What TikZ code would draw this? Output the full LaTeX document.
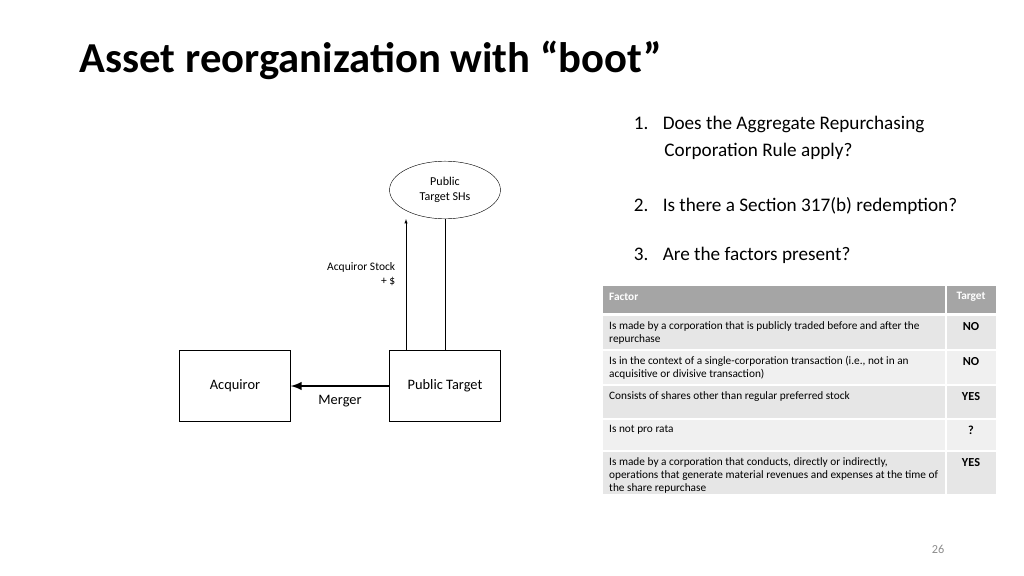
\documentclass[tikz,border=0pt]{standalone}
\usepackage{fontspec}
\setmainfont{Carlito}
\usetikzlibrary{shapes.geometric,positioning}
\definecolor{hdrgray}{HTML}{A5A5A5}
\definecolor{rowa}{HTML}{E6E6E6}
\definecolor{rowb}{HTML}{F0F0F0}
\definecolor{numgray}{HTML}{8C8C8C}
\tikzset{
  box/.style={draw,minimum width=104pt,minimum height=66.5pt,font=\fontsize{13.5}{16}\selectfont},
  cell/.style={anchor=north west,inner sep=0pt,outer sep=0pt},
  ctext/.style={anchor=north west,align=left,inner sep=0pt,font=\fontsize{10.6}{12.5}\selectfont},
  ans/.style={anchor=north,inner sep=0pt,font=\fontsize{11.5}{13}\selectfont\bfseries},
}
\begin{document}
\begin{tikzpicture}[x=0.9375pt,y=-0.9375pt]
    \useasboundingbox (0,0) rectangle (1024,576);
    \node[anchor=west,font=\fontsize{40}{46}\selectfont\bfseries] at (76,60) (title) {Asset reorganization with “boot”};
    % left diagram
    \node[draw,ellipse,minimum width=104pt,minimum height=54pt,align=center,font=\fontsize{11.3}{14}\selectfont] at (445,190) (shs) {Public\\Target SHs};
    \node[box] at (235,386) (acq) {Acquiror};
    \node[box] at (445,386) (pt) {Public Target};
    \draw[-latex,line width=2.5pt] (pt) -- (acq);
    \node[font=\fontsize{13.5}{16}\selectfont] at (340,401) (merger) {Merger};
    \draw[-latex] (pt.north -| 406,0) -- (shs.south -| 406,0);
    \draw (pt.north) -- (shs.south);
    \node[anchor=east,align=right,font=\fontsize{10.8}{13.5}\selectfont] at (399,274) (stock) {Acquiror Stock\\+ \$};
    % questions
    \node[anchor=north west,align=left,font=\fontsize{18}{25.5}\selectfont] at (630,112) (q1) {1.\hspace{0.75em}Does the Aggregate Repurchasing\\\hspace{1.6em}Corporation Rule apply?};
    \node[anchor=west,font=\fontsize{18}{22}\selectfont] at (630,206) (q2) {2.\hspace{0.75em}Is there a Section 317(b) redemption?};
    \node[anchor=west,font=\fontsize{18}{22}\selectfont] at (630,255) (q3) {3.\hspace{0.75em}Are the factors present?};
    % table
    \node[cell,fill=hdrgray,minimum width=320.6pt,minimum height=25.3pt] at (603,286) (h1) {};
    \node[cell,fill=hdrgray,minimum width=46pt,minimum height=25.3pt] at (947,286) (h2) {};
    \node[anchor=west,inner sep=0pt,text=white,font=\fontsize{10.6}{12}\selectfont\bfseries] at (609,297) {Factor};
    \node[text=white,font=\fontsize{10.6}{12}\selectfont\bfseries] at (971,297) {Target};
    \foreach \y/\h/\c/\t/\a in {
      316/33/rowa/{Is made by a corporation that is publicly traded before and after the\\repurchase}/NO,
      351/33/rowb/{Is in the context of a single-corporation transaction (i.e., not in an\\acquisitive or divisive transaction)}/NO,
      386/32/rowa/{Consists of shares other than regular preferred stock}/YES,
      420/30/rowb/{Is not pro rata}/?,
      452/42/rowa/{Is made by a corporation that conducts, directly or indirectly,\\operations that generate material revenues and expenses at the time of\\the share repurchase}/YES}{
      \node[cell,fill=\c,minimum width=320.6pt,minimum height=\h*0.9375pt] at (603,\y) {};
      \node[cell,fill=\c,minimum width=46pt,minimum height=\h*0.9375pt] at (947,\y) {};
      \node[ctext] at (609,\y+5) {\t};
      \node[ans] at (971,\y+6) {\a};
    }
    \node[text=numgray,font=\fontsize{11.5}{13}\selectfont] at (938,549) (page) {26};
\end{tikzpicture}
\end{document}
